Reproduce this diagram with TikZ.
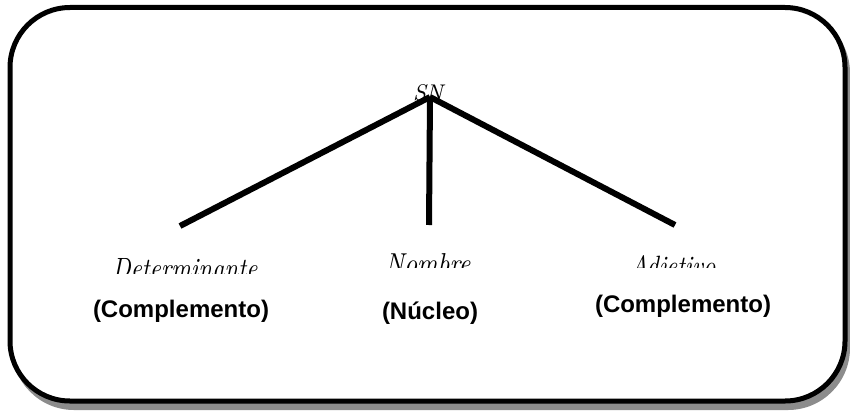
\documentclass[tikz,border=0pt]{standalone}
\usepackage{fontspec}
\newfontfamily\arialfont{Liberation Sans}
\usepackage{graphicx}
\begin{document}
\begin{tikzpicture}[x=1pt,y=-1pt,
  frame/.style={line width=5pt,rounded corners=60pt},
  branch/.style={line width=6pt},
  cat/.style={inner sep=0pt,anchor=north},
  func/.style={inner sep=0pt,font=\arialfont\bfseries\fontsize{24}{28}\selectfont}]
\useasboundingbox (0,0) rectangle (850,412);
% shadow and frame
\fill[gray!90,rounded corners=62pt] (12,11) rectangle (850,410);
\draw[frame,fill=white] (10,7.5) rectangle (845,401);
% tree
\node[cat] (sn) at (428,84) {\resizebox{30pt}{16pt}{\itshape SN}};
\coordinate (apex) at (430,97);
\coordinate (ldet) at (180,226);
\coordinate (lnom) at (429,225);
\coordinate (ladj) at (675,225);
\draw[branch] (apex) -- (ldet);
\draw[branch] (apex) -- (lnom);
\draw[branch] (apex) -- (ladj);
\begin{scope}
  \clip (90,240) rectangle (280,273);
  \node[cat] (det) at (185,258) {\resizebox{145pt}{20pt}{\itshape Determinante}};
\end{scope}
\begin{scope}
  \clip (360,240) rectangle (500,267);
  \node[cat] (nom) at (428,253) {\resizebox{85pt}{20pt}{\itshape Nombre}};
\end{scope}
\begin{scope}
  \clip (600,240) rectangle (760,267);
  \node[cat] (adj) at (673,255) {\resizebox{85pt}{20pt}{\itshape Adjetivo}};
\end{scope}
\node[func] (f1) at (181,311) {(Complemento)};
\node[func] (f2) at (430,313) {(Núcleo)};
\node[func] (f3) at (683,306) {(Complemento)};
\end{tikzpicture}
\end{document}
